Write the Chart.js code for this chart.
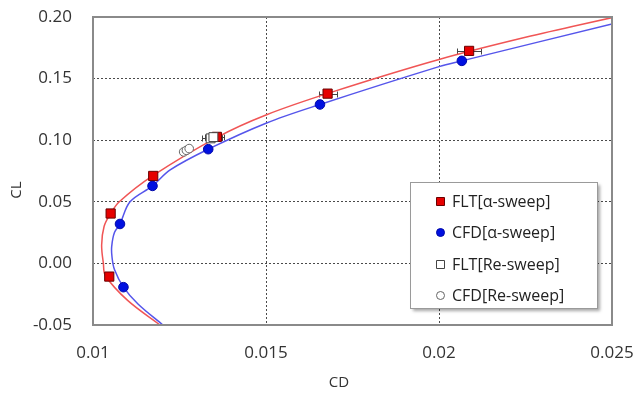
<!DOCTYPE html>
<html>
<head>
<meta charset="utf-8">
<script src="https://cdn.jsdelivr.net/npm/chart.js@4.4.1/dist/chart.umd.min.js"></script>
<style>
  html, body { margin: 0; padding: 0; background: #fff; }
  #wrap { width: 634px; height: 401px; }
</style>
</head>
<body>
<div id="wrap"><canvas id="polar" width="634" height="401"></canvas></div>
<script>
// Drag polar, CL vs CD
const cdTicks = [0.01, 0.015, 0.02, 0.025];
const cdTickLabels = ['0.01', '0.015', '0.02', '0.025'];
const clTicks = [-0.05, 0, 0.05, 0.10, 0.15, 0.20];
const clTickLabels = ['-0.05', '0.00', '0.05', '0.10', '0.15', '0.20'];
const xTitle = 'CD';
const yTitle = 'CL';

// flight test, alpha sweep (with CD scatter band)
const fltAlphaCD = [0.01047, 0.01051, 0.01174, 0.01358, 0.01678, 0.02087];
const fltAlphaCL = [-0.0107, 0.0405, 0.0710, 0.1027, 0.1378, 0.1725];
const fltAlphaErr = [0, 0, 0, 0.00020, 0.00026, 0.00035];

// CFD, alpha sweep
const cfdAlphaCD = [0.01088, 0.01078, 0.01172, 0.01333, 0.01656, 0.02066];
const cfdAlphaCL = [-0.0193, 0.0320, 0.0629, 0.0927, 0.1290, 0.1644];

// flight test, Reynolds sweep
const fltReCD = [0.01340, 0.01348];
const fltReCL = [0.1015, 0.1025];
const fltReErr = [0.00025, 0.00025];

// CFD, Reynolds sweep
const cfdReCD = [0.01262, 0.01270, 0.01278];
const cfdReCL = [0.0905, 0.0918, 0.0932];

// fitted polars
const fltFitCD = [0.01194, 0.01100, 0.01036, 0.01030, 0.01025, 0.01032, 0.01050, 0.01076, 0.01172, 0.01361, 0.01500, 0.01690, 0.02000, 0.02250, 0.02500];
const fltFitCL = [-0.050, -0.030, -0.010, 0.000, 0.015, 0.030, 0.040, 0.050, 0.071, 0.1027, 0.1205, 0.139, 0.1655, 0.1835, 0.1995];
const cfdFitCD = [0.01202, 0.01130, 0.01088, 0.01062, 0.01055, 0.01054, 0.01062, 0.01078, 0.01107, 0.01172, 0.01223, 0.01333, 0.01500, 0.01656, 0.02000, 0.02066, 0.02500];
const cfdFitCL = [-0.050, -0.033, -0.0193, -0.005, 0.005, 0.0136, 0.025, 0.032, 0.050, 0.0629, 0.0759, 0.0927, 0.1138, 0.129, 0.1597, 0.1644, 0.1944];

const pts = (xs, ys) => xs.map((v, i) => ({ x: v, y: ys[i] }));

const FONT = '"Open Sans", "DejaVu Sans", sans-serif';
const TEXT = '#333';

// horizontal CD bands on the flight test points
const errorBars = {
    id: 'errorBars',
    beforeDatasetsDraw(chart) {
        const { ctx, scales: { x, y } } = chart;
        ctx.save();
        ctx.strokeStyle = '#444';
        ctx.lineWidth = 1;
        chart.data.datasets.forEach(ds => {
            if (!ds.errX) return;
            ds.data.forEach((p, i) => {
                const e = ds.errX[i];
                if (!e) return;
                const x0 = Math.round(x.getPixelForValue(p.x - e)) + 0.5;
                const x1 = Math.round(x.getPixelForValue(p.x + e)) + 0.5;
                const py = Math.round(y.getPixelForValue(p.y)) + 0.5;
                ctx.beginPath();
                ctx.moveTo(x0, py); ctx.lineTo(x1, py);
                ctx.moveTo(x0, py - 3); ctx.lineTo(x0, py + 3);
                ctx.moveTo(x1, py - 3); ctx.lineTo(x1, py + 3);
                ctx.stroke();
            });
        });
        ctx.restore();
    }
};

// plot frame on all four sides
const frame = {
    id: 'frame',
    afterDatasetsDraw(chart) {
        const { ctx, chartArea: a } = chart;
        ctx.save();
        ctx.strokeStyle = '#8a8a8a';
        ctx.lineWidth = 2;
        ctx.strokeRect(a.left, a.top, a.right - a.left, a.bottom - a.top);
        ctx.restore();
    }
};

// axis titles
const axisTitles = {
    id: 'axisTitles',
    afterDraw(chart) {
        const { ctx } = chart;
        ctx.save();
        ctx.fillStyle = TEXT;
        ctx.font = '15px ' + FONT;
        ctx.textAlign = 'center';
        ctx.textBaseline = 'middle';
        ctx.fillText(xTitle, 339, 383);
        ctx.translate(17, 190);
        ctx.rotate(-Math.PI / 2);
        ctx.fillText(yTitle, 0, 0);
        ctx.restore();
    }
};

// boxed legend inside the plot
const boxLegend = {
    id: 'boxLegend',
    afterDraw(chart) {
        const { ctx } = chart;
        const items = chart.data.datasets.filter(ds => ds.legendMark);
        const bx = 410, by = 182, bw = 187, bh = 126;
        ctx.save();
        ctx.shadowColor = 'rgba(0,0,0,0.35)';
        ctx.shadowBlur = 3;
        ctx.shadowOffsetX = 3;
        ctx.shadowOffsetY = 3;
        ctx.fillStyle = '#fff';
        ctx.fillRect(bx, by, bw, bh);
        ctx.shadowColor = 'transparent';
        ctx.strokeStyle = '#9a9a9a';
        ctx.lineWidth = 1;
        ctx.strokeRect(bx + 0.5, by + 0.5, bw, bh);
        ctx.font = '16px ' + FONT;
        ctx.textBaseline = 'middle';
        items.forEach((ds, i) => {
            const cy = Math.round(by + 20 + i * 31.3);
            ctx.fillStyle = ds.backgroundColor;
            ctx.strokeStyle = ds.borderColor;
            ctx.lineWidth = 1;
            ctx.beginPath();
            if (ds.pointStyle === 'rect') ctx.rect(436.5, cy - 4.5, 8, 8);
            else ctx.arc(440.5, cy - 0.5, 4, 0, Math.PI * 2);
            ctx.fill();
            ctx.stroke();
            ctx.fillStyle = '#222';
            ctx.fillText(ds.label, 452, cy);
        });
        ctx.restore();
    }
};

new Chart(document.getElementById('polar'), {
    type: 'scatter',
    data: {
        datasets: [
            {
                label: 'FLT[α-sweep]', legendMark: true, order: 2,
                data: pts(fltAlphaCD, fltAlphaCL), errX: fltAlphaErr,
                pointStyle: 'rect', pointRadius: 6.5,
                backgroundColor: '#e60000', borderColor: '#6a0000', borderWidth: 1
            },
            {
                label: 'CFD[α-sweep]', legendMark: true, order: 3,
                data: pts(cfdAlphaCD, cfdAlphaCL),
                pointStyle: 'circle', pointRadius: 4.8,
                backgroundColor: '#0010e0', borderColor: '#0008a8', borderWidth: 1
            },
            {
                label: 'FLT[Re-sweep]', legendMark: true, order: 0,
                data: pts(fltReCD, fltReCL), errX: fltReErr,
                pointStyle: 'rect', pointRadius: 6.3,
                backgroundColor: '#ffffff', borderColor: '#444', borderWidth: 1
            },
            {
                label: 'CFD[Re-sweep]', legendMark: true, order: 1,
                data: pts(cfdReCD, cfdReCL),
                pointStyle: 'circle', pointRadius: 4.3,
                backgroundColor: '#ffffff', borderColor: '#666', borderWidth: 1
            },
            {
                label: 'FLT fit', order: 6,
                data: pts(fltFitCD, fltFitCL),
                showLine: true, tension: 0.35, pointRadius: 0,
                borderColor: 'rgb(240,85,85)', borderWidth: 1.5
            },
            {
                label: 'CFD fit', order: 7,
                data: pts(cfdFitCD, cfdFitCL),
                showLine: true, tension: 0.35, pointRadius: 0,
                borderColor: 'rgb(85,85,235)', borderWidth: 1.5
            }
        ]
    },
    options: {
        responsive: false,
        animation: false,
        layout: { padding: { top: 17, right: 22, left: 0, bottom: 0 } },
        plugins: {
            legend: { display: false },
            tooltip: { enabled: false }
        },
        scales: {
            x: {
                type: 'linear',
                min: 0.01, max: 0.025,
                afterBuildTicks: s => { s.ticks = cdTicks.map(v => ({ value: v })); },
                afterFit: s => { s.height = 76; s.paddingLeft = 0; s.paddingRight = 0; },
                ticks: {
                    callback: (v, i) => cdTickLabels[i],
                    font: { family: FONT, size: 17 }, color: TEXT, padding: 18,
                    maxRotation: 0
                },
                grid: { color: '#4a4a4a', lineWidth: 1, drawTicks: false },
                border: { display: false, dash: [2, 2] }
            },
            y: {
                type: 'linear',
                min: -0.05, max: 0.20,
                afterBuildTicks: s => { s.ticks = clTicks.map(v => ({ value: v })); },
                afterFit: s => { s.width = 93; s.paddingTop = 0; s.paddingBottom = 0; },
                ticks: {
                    callback: (v, i) => clTickLabels[i],
                    font: { family: FONT, size: 17 }, color: TEXT, padding: 21
                },
                grid: { color: '#4a4a4a', lineWidth: 1, drawTicks: false },
                border: { display: false, dash: [2, 2] }
            }
        }
    },
    plugins: [errorBars, frame, axisTitles, boxLegend]
});
</script>
</body>
</html>
